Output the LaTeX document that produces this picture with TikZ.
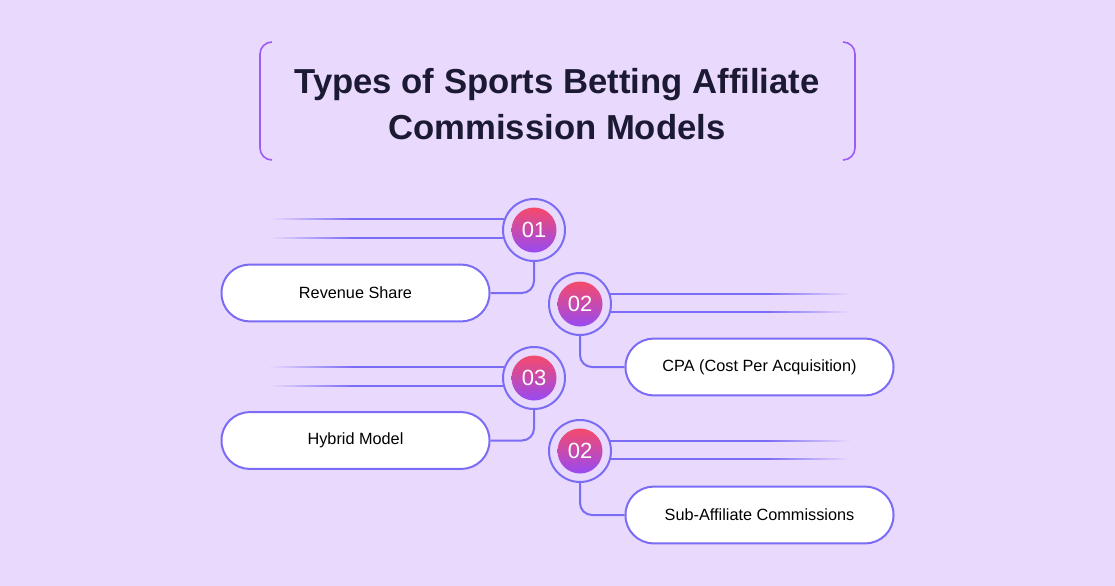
\documentclass[tikz,border=0pt]{standalone}
\usepackage{fontspec}
\setmainfont{Liberation Sans}
\usetikzlibrary{positioning,calc}

\definecolor{bgviolet}{HTML}{E8D9FD}
\definecolor{ringblue}{HTML}{7B6CF5}
\definecolor{edgepurple}{HTML}{9D5CF5}
\definecolor{dotpink}{HTML}{F64A6A}
\definecolor{dotpurple}{HTML}{974AF3}
\definecolor{titleink}{HTML}{1C1A33}

\tikzset{
  ring/.style={circle, draw=ringblue, line width=1.5pt, minimum size=46.5pt, inner sep=0pt},
  numdot/.style={circle, top color=dotpink, bottom color=dotpurple, minimum size=33.75pt,
    inner sep=0pt, text=white, font=\fontsize{16.5}{16.5}\selectfont},
  pill/.style={draw=ringblue, fill=white, line width=1.5pt, rounded corners=21pt,
    minimum width=201pt, minimum height=42.5pt, font=\fontsize{12.2}{14}\selectfont},
  link/.style={draw=ringblue, line width=1.5pt, rounded corners=9pt},
  railbit/.style={line width=1.5pt},
  titleedge/.style={draw=edgepurple, line width=1.2pt, rounded corners=9pt},
}

\begin{document}
\begin{tikzpicture}[x=0.75pt, y=-0.75pt]
    \fill[bgviolet] (0,0) rectangle (1115,586);
    \useasboundingbox (0,0) rectangle (1115,586);

    % title
    \draw[titleedge] (272,42) -- (260,42) -- (260,160) -- (272,160);
    \draw[titleedge] (843,42) -- (855,42) -- (855,160) -- (843,160);
    \node[align=center, text=titleink, font=\bfseries\fontsize{26}{34.5}\selectfont] (title) at (557,104)
        {Types of Sports Betting Affiliate\\Commission Models};

    % steps
    \node[ring] (c1) at (534,230) {};
    \node[ring] (c2) at (580,304) {};
    \node[ring] (c3) at (534,378) {};
    \node[ring] (c4) at (580,451) {};
    \node[numdot] (n1) at (c1) {01};
    \node[numdot] (n2) at (c2) {02};
    \node[numdot] (n3) at (c3) {03};
    \node[numdot] (n4) at (c4) {02};

    \node[pill] (p1) at (355.5,293) {Revenue Share};
    \node[pill] (p2) at (759.5,367) {CPA (Cost Per Acquisition)};
    \node[pill] (p3) at (355.5,440.5) {Hybrid Model};
    \node[pill] (p4) at (759.5,515) {Sub-Affiliate Commissions};

    \draw[link] (c1.south) |- (p1.east);
    \draw[link] (c2.south) |- (p2.west);
    \draw[link] (c3.south) |- (p3.east);
    \draw[link] (c4.south) |- (p4.west);

    % fading rails
    \coordinate (lfade) at (350,0);
    \coordinate (rfade) at (770,0);
    \foreach \c in {c1,c3} {
      \foreach \a in {159,195} {
        \draw[link] (\c.\a) -- (\c.\a -| lfade);
        \foreach \k in {1,...,16} {
          \pgfmathtruncatemacro\p{100-\k*6}
          \draw[railbit, draw=ringblue!\p!bgviolet]
            ($(\c.\a -| lfade)+(-5*\k+5.5,0)$) -- ++(-5.5,0);
        }
      }
    }
    \foreach \c in {c2,c4} {
      \foreach \a in {19,345} {
        \draw[link] (\c.\a) -- (\c.\a -| rfade);
        \foreach \k in {1,...,16} {
          \pgfmathtruncatemacro\p{100-\k*6}
          \draw[railbit, draw=ringblue!\p!bgviolet]
            ($(\c.\a -| rfade)+(5*\k-5.5,0)$) -- ++(5.5,0);
        }
      }
    }
\end{tikzpicture}
\end{document}
